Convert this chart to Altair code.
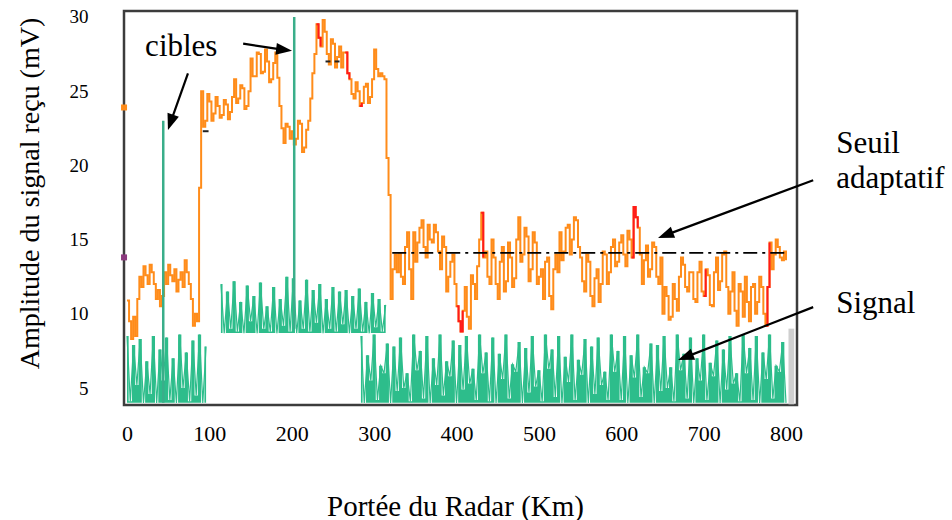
import altair as alt
import pandas as pd

FONT = "Liberation Serif"

# ---------------- data ----------------
# orange received signal: main samples (km 0..800, every 5 km)
orange_start, orange_step = 0, 5
orange_vals = [
    10.9, 8.3, 8.5, 12.5, 13.2, 12.0, 12.8, 11.0, 10.5, 12.8,
    13.3, 12.2, 11.5, 12.8, 13.6, 12.0, 9.2, 9.5, 25.0, 23.0,
    24.3, 23.5, 24.0, 23.4, 24.1, 23.6, 25.8, 24.5, 25.2, 24.0,
    27.2, 26.0, 27.5, 26.3, 27.0, 25.8, 27.6, 24.0, 21.5, 22.6,
    22.3, 21.8, 22.8, 21.2, 23.0, 26.2, 29.5, 28.0, 29.0, 26.8,
    28.2, 27.3, 26.6, 27.6, 25.8, 24.5, 25.0, 24.2, 25.5, 24.6,
    27.8, 26.0, 26.0, 20.5, 11.0, 14.0, 14.1, 12.0, 15.5, 11.0,
    13.5, 15.8, 14.5, 16.0, 14.8, 15.5, 13.0, 14.5, 12.5, 14.0,
    10.5, 8.8, 11.8, 9.0, 12.0, 13.2, 16.8, 14.2, 12.0, 13.8,
    11.0, 14.5, 12.2, 13.8, 12.4, 16.5, 14.0, 15.2, 13.0, 14.8,
    12.5, 11.0, 13.8, 10.3, 14.0, 15.5, 14.2, 16.0, 15.0, 16.3,
    13.8, 11.5, 13.5, 10.5, 13.0, 12.0, 14.0, 12.8, 15.0, 13.5,
    15.3, 13.2, 15.0, 17.2, 15.8, 12.0, 14.6, 13.0, 14.5, 12.0,
    10.0, 11.2, 9.8, 11.0, 12.5, 13.3, 11.5, 12.8, 10.8, 13.5,
    11.2, 12.6, 10.5, 13.8, 12.2, 14.2, 10.0, 12.8, 9.2, 11.5,
    12.5, 9.5, 12.0, 10.8, 11.8, 9.2, 14.8, 14.0, 14.5, 13.6,
    13.6,
]
# intermediate samples (km 2.5, 7.5, ... 797.5)
orange_mid_start = 2.5
orange_mid = [
    9.5, 9.8, 11.0, 11.8, 12.6, 13.3, 12.0, 11.6, 11.2, 12.0,
    12.6, 13.0, 12.3, 11.8, 12.8, 11.0, 10.0, 18.5, 22.6, 24.8,
    23.0, 24.6, 23.2, 24.4, 23.1, 24.6, 24.2, 25.4, 23.8, 25.0,
    26.0, 27.6, 26.2, 27.8, 25.6, 26.9, 25.9, 22.5, 22.8, 21.8,
    21.4, 23.0, 20.9, 22.4, 24.5, 27.5, 28.6, 29.8, 27.5, 28.5,
    26.6, 28.0, 27.6, 26.2, 24.8, 25.6, 24.0, 25.3, 24.2, 25.8,
    26.5, 26.2, 25.8, 18.0, 13.0, 12.8, 12.5, 14.5, 13.0, 15.5,
    14.8, 16.3, 13.8, 15.0, 16.0, 14.2, 15.2, 11.5, 13.5, 12.0,
    9.5, 10.2, 9.8, 12.6, 11.0, 15.0, 13.8, 12.5, 15.0, 12.0,
    13.5, 11.5, 14.8, 11.8, 15.0, 13.5, 15.8, 12.2, 15.5, 12.0,
    13.0, 13.5, 11.2, 13.0, 12.8, 13.6, 15.8, 14.0, 16.5, 14.5,
    12.2, 14.0, 11.2, 12.4, 10.8, 14.2, 12.0, 14.5, 13.2, 14.8,
    14.0, 15.6, 13.8, 16.5, 14.0, 13.6, 12.5, 14.8, 12.5, 13.8,
    11.8, 9.6, 12.0, 10.2, 13.8, 11.8, 12.8, 11.0, 12.8, 11.5,
    13.0, 10.6, 12.8, 11.6, 14.0, 11.8, 11.5, 10.2, 12.0, 9.8,
    10.8, 11.8, 10.0, 12.5, 10.0, 11.8, 13.0, 15.0, 13.8, 14.2,
]
# km windows where the trace is drawn red
red_windows = [(230, 235), (265, 272), (282, 286), (400, 408),
               (430, 434), (612, 620), (700, 704), (775, 782)]

# green noise ("Signal"), every 4 km, with the floor of each band
green_step = 4
green1_start, green1_floor = 0, 4.0
green1_vals = [8.5, 4.1, 7.9, 5.2, 8.3, 4.0, 6.8, 4.6, 8.5, 4.0, 7.6, 5.5, 8.4,
               4.2, 7.0, 4.0, 8.6, 5.0, 7.4, 4.1, 8.2, 4.5, 8.6, 4.0, 7.8]
green2_start, green2_floor = 114, 8.7
green2_vals = [
    12.0, 8.7, 11.5, 9.0, 12.2, 8.8, 10.8, 8.7, 11.9, 9.5,
    11.2, 8.7, 12.1, 9.0, 10.5, 8.8, 11.8, 8.7, 11.0, 9.2,
    12.5, 8.8, 12.4, 8.7, 10.9, 9.0, 12.3, 8.8, 11.6, 9.4,
    12.0, 8.7, 11.0, 9.0, 11.8, 8.8, 11.5, 9.3, 11.6, 8.7,
    11.2, 9.0, 11.7, 8.8, 10.8, 8.7, 11.4, 9.1, 11.0, 8.8,
    10.6,
]
green3_start, green3_floor = 284, 4.0
green3_vals = [
    8.5, 4.0, 7.2, 5.5, 8.6, 4.2, 6.5, 6.0, 8.0, 4.0,
    7.8, 4.8, 8.4, 5.0, 6.0, 4.1, 8.6, 6.2, 7.5, 4.3,
    8.5, 4.0, 7.0, 5.2, 8.6, 4.5, 6.8, 5.8, 8.2, 4.0,
    7.9, 4.9, 8.5, 5.3, 6.3, 4.2, 8.6, 6.0, 7.4, 4.1,
    8.4, 4.0, 7.3, 5.6, 8.6, 4.3, 6.6, 6.1, 8.1, 4.0,
    7.7, 4.7, 8.5, 5.1, 6.2, 4.1, 8.6, 6.3, 7.6, 4.4,
    8.5, 4.0, 7.1, 5.4, 8.6, 4.2, 6.9, 5.9, 8.3, 4.0,
    7.8, 4.6, 8.4, 5.2, 6.1, 4.2, 8.6, 6.1, 7.5, 4.2,
    8.5, 4.0, 7.2, 5.7, 8.6, 4.4, 6.4, 6.0, 8.0, 4.0,
    7.9, 4.8, 8.5, 5.0, 6.4, 4.1, 8.6, 6.2, 7.3, 4.3,
    8.4, 4.0, 7.0, 5.5, 8.6, 4.2, 6.7, 5.8, 8.2, 4.0,
    7.6, 4.9, 8.5, 5.3, 6.0, 4.1, 8.6, 6.0, 7.7, 4.2,
    8.5, 4.0, 7.4, 5.6, 8.6, 4.3, 6.5, 6.1, 8.1, 4.0,
]

# targets ("cibles")
target_km = [44, 203]
target_lo = [4.0, 9.0]
target_hi = [23.0, 30.0]

# adaptive threshold
seuil_km = [322, 800]
seuil_val = [14.1, 14.1]
seuil_frag_km = [92, 241, 252]
seuil_frag_km2 = [99, 247, 258]
seuil_frag_val = [22.3, 27.0, 27.0]

# small markers on the left axis
marker_val = [13.8, 23.9]
marker_col = ["#8b3a7e", "#ff8c1a"]

# grey block at the right end
grey_km, grey_km2, grey_lo, grey_hi = [803], [810], [3.9], [9.0]

# annotations (data coordinates)
ann_text = ["cibles", "Seuil", "adaptatif", "Signal"]
ann_km = [22, 861, 861, 861]
ann_v = [27.4, 20.85, 18.5, 10.05]

arrow_km = [74, 141, 833, 833]
arrow_v = [26.2, 28.2, 19.0, 10.45]
head_km = [52.9, 190.7, 653.7, 678.0]
head_v = [22.9, 27.78, 15.3, 7.08]
head_angle = [199, 97, 249, 249]

# ---------------- tables ----------------
o_main = pd.DataFrame({"km": [orange_start + i * orange_step for i in range(len(orange_vals))],
                       "v": orange_vals})
o_mid = pd.DataFrame({"km": [orange_mid_start + i * orange_step for i in range(len(orange_mid))],
                      "v": orange_mid})
orange = pd.concat([o_main, o_mid]).sort_values("km").reset_index(drop=True)

red_rows = []
for j, (a, b) in enumerate(red_windows):
    sub = orange[(orange.km >= a) & (orange.km <= b)]
    for _, r in sub.iterrows():
        red_rows.append({"km": r.km, "v": r.v, "seg": j})
red = pd.DataFrame(red_rows)

green_tables = []
for start, floor, vals in [(green1_start, green1_floor, green1_vals),
                           (green2_start, green2_floor, green2_vals),
                           (green3_start, green3_floor, green3_vals)]:
    green_tables.append(pd.DataFrame({
        "km": [start + i * green_step for i in range(len(vals))],
        "v": vals,
        "base": [floor] * len(vals),
    }))

targets = pd.DataFrame({"km": target_km, "v": target_lo, "v2": target_hi})
seuil = pd.DataFrame({"km": seuil_km, "v": seuil_val})
frag = pd.DataFrame({"km": seuil_frag_km, "km2": seuil_frag_km2, "v": seuil_frag_val})
markers = pd.DataFrame({"km": [-3.6, -3.6], "v": marker_val, "c": marker_col})
grey = pd.DataFrame({"km": grey_km, "km2": grey_km2, "v": grey_lo, "v2": grey_hi})
ann = pd.DataFrame({"km": ann_km, "v": ann_v, "t": ann_text})
arrows = pd.DataFrame({"km": arrow_km, "v": arrow_v, "km2": head_km, "v2": head_v})
heads = pd.DataFrame({"km": head_km, "v": head_v, "a": head_angle})

# ---------------- encodings ----------------
xscale = alt.Scale(domain=[-3.64, 813.35], nice=False, zero=False)
yscale = alt.Scale(domain=[3.855, 30.4], nice=False, zero=False)

x_axis = alt.Axis(values=[0, 100, 200, 300, 400, 500, 600, 700, 800],
                  title="Portée du Radar (Km)", grid=False, ticks=False, tickSize=0,
                  domain=False, labelFont=FONT, labelFontSize=22, labelColor="black",
                  labelPadding=35, labelBaseline="alphabetic", labelFlush=False,
                  labelOverlap=False, titleFont=FONT, titleFontSize=29,
                  titleFontWeight="normal", titleColor="black", titleX=331, titleY=110,
                  titleBaseline="alphabetic", titleAlign="center")
y_axis = alt.Axis(values=[5, 10, 15, 20, 25, 30],
                  title="Amplitude du signal reçu (mV)", grid=False, ticks=False, tickSize=0,
                  domain=False, labelFont=FONT, labelFontSize=19, labelColor="black",
                  labelPadding=36, labelFlush=False, labelOverlap=False,
                  titleFont=FONT, titleFontSize=28, titleFontWeight="normal",
                  titleColor="black", titleAngle=270, titleX=-86, titleY=182,
                  titleBaseline="alphabetic", titleAlign="center")

X = alt.X("km:Q", scale=xscale, axis=x_axis)
Y = alt.Y("v:Q", scale=yscale, axis=y_axis)
Ya = alt.Y("v:Q", scale=yscale, axis=y_axis, stack=None)

GREEN = "#2dbd8b"
green_layers = []
for gt in green_tables:
    green_layers.append(alt.Chart(gt).mark_area(color=GREEN, opacity=1, line=False,
                                                interpolate="step").encode(
        x=X, y=Ya, y2="base:Q"))
    green_layers.append(alt.Chart(gt).mark_line(color=GREEN, strokeWidth=1.2,
                                                interpolate="linear").encode(x=X, y=Y))

grey_layer = alt.Chart(grey).mark_rect(color="#cfcfcf").encode(
    x=X, x2="km2:Q", y=Y, y2="v2:Q")

orange_layer = alt.Chart(orange).mark_line(color="#ff8c1a", strokeWidth=2,
                                           interpolate="step-after").encode(
    x=X, y=Y, order="km:Q")

red_layer = alt.Chart(red).mark_line(color="#ff1a1a", strokeWidth=2,
                                     interpolate="step-after").encode(
    x=X, y=Y, detail="seg:N", order="km:Q")

target_layer = alt.Chart(targets).mark_rule(color="#3aae8a", strokeWidth=2.5).encode(
    x=X, y=Y, y2="v2:Q")

seuil_layer = alt.Chart(seuil).mark_line(color="black", strokeWidth=1.8,
                                         strokeDash=[14, 5, 3, 5]).encode(x=X, y=Y)

frag_layer = alt.Chart(frag).mark_rule(color="#222222", strokeWidth=2).encode(
    x=X, x2="km2:Q", y=Y)

marker_layer = alt.Chart(markers).mark_square(size=36, opacity=1).encode(
    x=X, y=Y, color=alt.Color("c:N", scale=None))

ann_layer = alt.Chart(ann).mark_text(align="left", baseline="alphabetic", font=FONT,
                                     fontSize=31, color="black").encode(
    x=X, y=Y, text="t:N")

arrow_layer = alt.Chart(arrows).mark_rule(color="black", strokeWidth=2.2).encode(
    x=X, y=Y, x2="km2:Q", y2="v2:Q")

head_layer = alt.Chart(heads).mark_point(shape="M0,-1L-0.75,1L0.75,1Z", filled=True,
                                         size=256, color="black", opacity=1,
                                         strokeWidth=0).encode(
    x=X, y=Y, angle=alt.Angle("a:Q", scale=None))

chart = alt.layer(
    *green_layers, grey_layer, orange_layer, red_layer, target_layer,
    seuil_layer, frag_layer, marker_layer, ann_layer, arrow_layer, head_layer
).properties(
    width=673, height=394,
    autosize=alt.AutoSizeParams(type="none"),
    padding={"left": 124, "top": 11, "right": 155, "bottom": 115},
    background="white",
).configure_view(stroke="#3c3c3c", strokeWidth=2.5)

chart.save("out.html", embed_options={"renderer": "svg", "actions": False})
